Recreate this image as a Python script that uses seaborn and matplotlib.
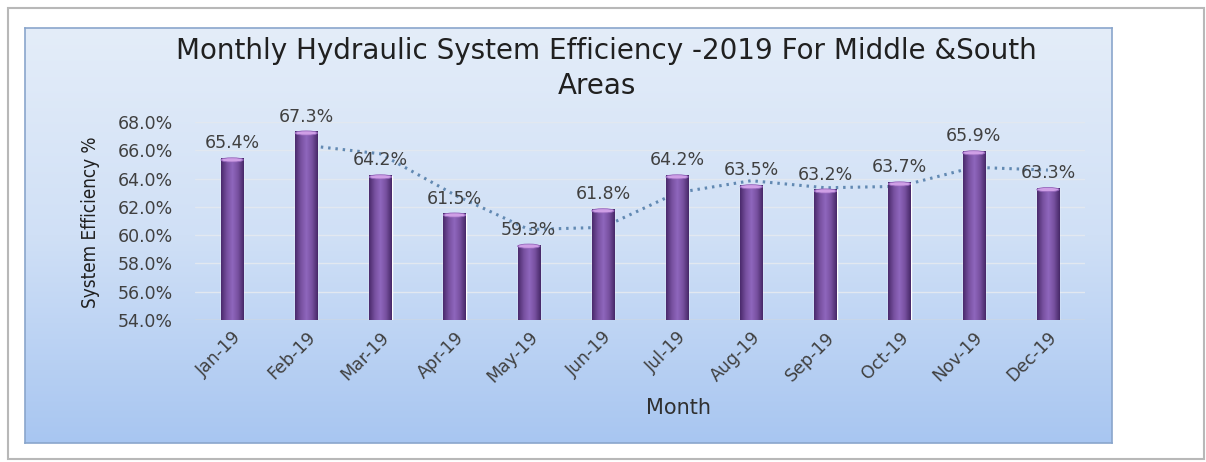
import numpy as np
import pandas as pd
import matplotlib
matplotlib.use('Agg')
import matplotlib.pyplot as plt
from matplotlib.colors import LinearSegmentedColormap
from matplotlib.patches import Ellipse, Rectangle
import seaborn as sns

months = ['Jan-19', 'Feb-19', 'Mar-19', 'Apr-19', 'May-19', 'Jun-19',
          'Jul-19', 'Aug-19', 'Sep-19', 'Oct-19', 'Nov-19', 'Dec-19']
efficiency = [65.4, 67.3, 64.2, 61.5, 59.3, 61.8, 64.2, 63.5, 63.2, 63.7, 65.9, 63.3]
# dotted trend line (starts at Feb)
trend_months = months[1:]
trend_values = [66.35, 65.75, 62.85, 60.4, 60.55, 63.0, 63.85, 63.35, 63.45, 64.8, 64.6]
y_ticks = [54, 56, 58, 60, 62, 64, 66, 68]

df = pd.DataFrame({'Month': months, 'Efficiency': efficiency})

sns.set_style('white')
plt.rcParams['font.family'] = ['DejaVu Sans']

W, H = 1206, 462
fig = plt.figure(figsize=(W / 100, H / 100), dpi=100)
fig.patch.set_facecolor('white')

# outer picture frame
fig.patches.append(Rectangle((8 / W, 1 - 459 / H), 1196 / W, 451 / H, transform=fig.transFigure,
                             fill=False, edgecolor='#b8b8b8', linewidth=1.5, zorder=0))

# chart area with vertical gradient
bg = fig.add_axes([25 / W, 1 - 443 / H, (1112 - 25) / W, (443 - 28) / H])
bg_cmap = LinearSegmentedColormap.from_list('bg', ['#e4edf9', '#d0e0f6', '#a8c6f1'])
bg.imshow(np.linspace(0, 1, 256).reshape(-1, 1), aspect='auto', cmap=bg_cmap,
          extent=[0, 1, 0, 1], origin='upper')
bg.set_xticks([])
bg.set_yticks([])
for s in bg.spines.values():
    s.set_color('#8aa6cc')
    s.set_linewidth(1.2)

ax = fig.add_axes([195 / W, 1 - 320 / H, (1085 - 195) / W, (320 - 122) / H])
ax.patch.set_alpha(0)

sns.barplot(data=df, x='Month', y='Efficiency', order=months, color='#7a52a6', width=0.3,
            ax=ax, zorder=3, saturation=1)
sns.lineplot(x=trend_months, y=trend_values, ax=ax, color='#6289b2', linestyle=(0, (0.8, 1.6)),
             linewidth=2.2, zorder=2)
ax.set_ylim(y_ticks[0], y_ticks[-1])
ax.set_xlim(-0.5, len(months) - 0.5)

# cylinder shading on the bars
bar_cmap = LinearSegmentedColormap.from_list('bar', ['#4a2a6c', '#77509f', '#8f67bd', '#77509f', '#472868'])
ymin = ax.get_ylim()[0]
for p in ax.patches:
    x0, w, h = p.get_x(), p.get_width(), p.get_height()
    ax.imshow(np.linspace(0, 1, 64).reshape(1, -1), extent=[x0, x0 + w, ymin, h],
              aspect='auto', cmap=bar_cmap, zorder=4)
    ax.add_patch(Ellipse((x0 + w / 2, h - 0.08), w, 0.3, facecolor='#cf9fe6',
                         edgecolor='#9466bb', linewidth=0.6, zorder=5))
    ax.text(x0 + w / 2, h + 0.45, f'{h:.1f}%', ha='center', va='bottom',
            fontsize=12.5, color='#404040', zorder=6)
ax.set_xlim(-0.5, len(months) - 0.5)
ax.set_ylim(y_ticks[0], y_ticks[-1])

ax.set_yticks(y_ticks)
ax.set_yticklabels([f'{v:.1f}%' for v in y_ticks], fontsize=12.5, color='#404040')
ax.tick_params(axis='x', labelsize=12.5, labelcolor='#404040', rotation=45, length=0, pad=6)
ax.tick_params(axis='y', length=0, pad=16)
for lbl in ax.get_xticklabels():
    lbl.set_ha('right')
    lbl.set_rotation_mode('anchor')
ax.grid(axis='y', color='#e2e8f0', linewidth=1, zorder=0)
for s in ax.spines.values():
    s.set_visible(False)
ax.axhline(y_ticks[0], color='#c9d6e8', linewidth=1.2, zorder=1)

ax.set_xlabel('')
ax.set_ylabel('')
fig.text(91 / W, 1 - 222 / H, 'System Efficiency %', rotation=90, ha='center', va='center',
         fontsize=13.5, fontstretch='condensed', color='#202020')
fig.text(679 / W, 1 - 408 / H, 'Month', ha='center', va='center', fontsize=15, color='#303030')
fig.text(606 / W, 1 - 51 / H, 'Monthly Hydraulic System Efficiency -2019 For Middle &South',
         ha='center', va='center', fontsize=20, color='#202020')
fig.text(597 / W, 1 - 86 / H, 'Areas', ha='center', va='center', fontsize=20, color='#202020')

fig.savefig('out.png', dpi=100)
